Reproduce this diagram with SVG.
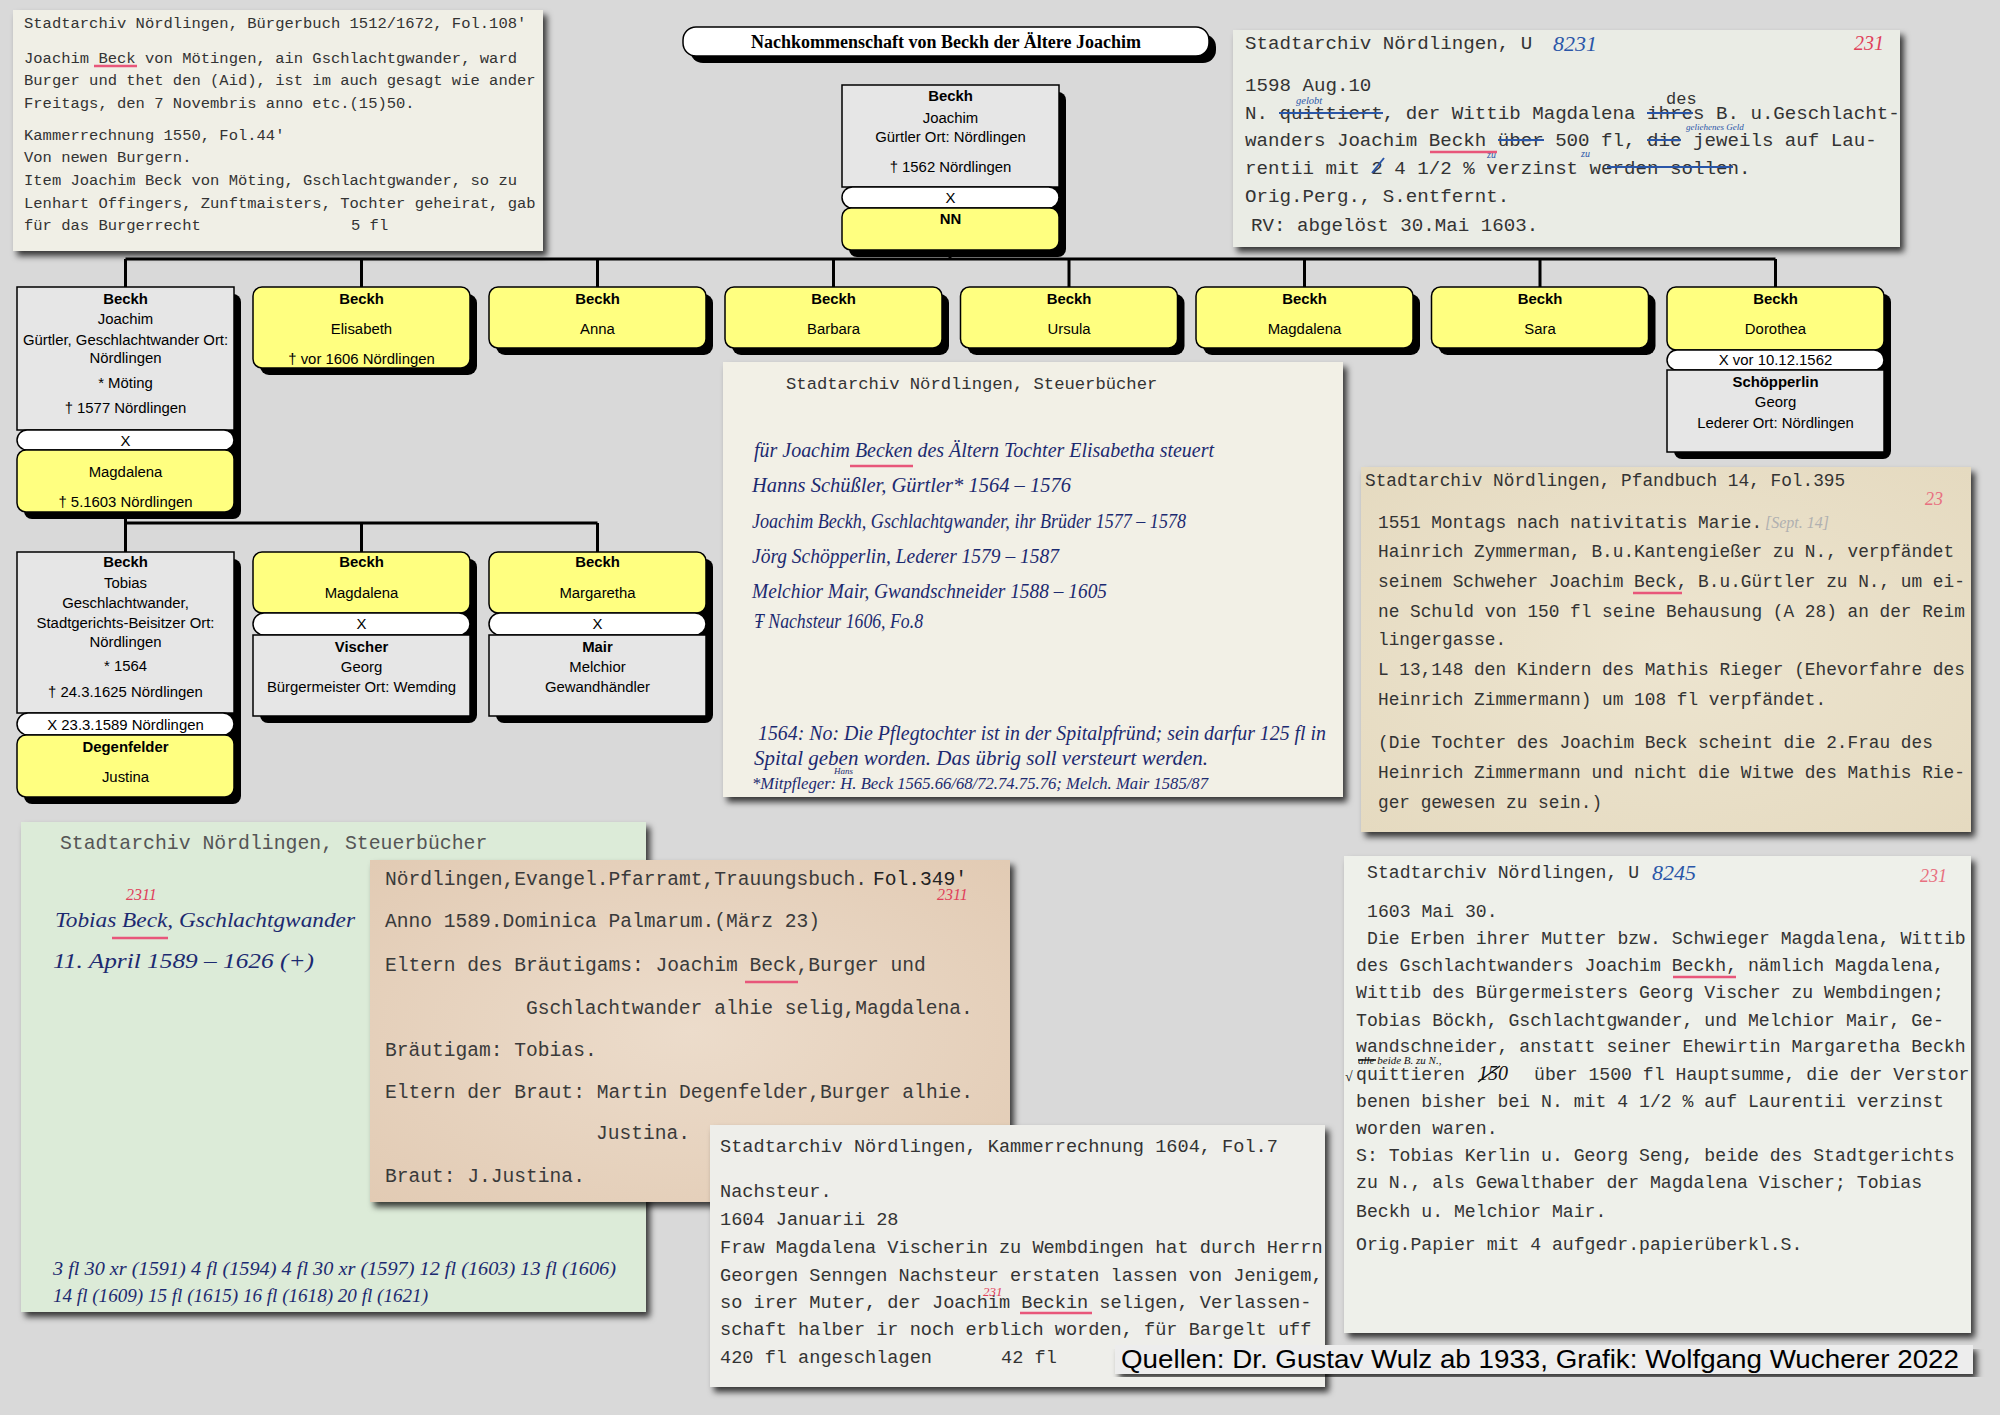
<svg xmlns="http://www.w3.org/2000/svg" width="2000" height="1415" viewBox="0 0 2000 1415">
<defs>
<style>
.nt{font-family:"Liberation Sans",Arial,sans-serif;font-size:14.9px;text-anchor:middle;fill:#000}
.b{font-weight:bold}
.gray{fill:#e6e6e6;stroke:#000;stroke-width:1.5}
.yel{fill:#ffff80;stroke:#000;stroke-width:1.5}
.pill{fill:#fff;stroke:#000;stroke-width:1.5}
.sh{fill:#000}
.conn{stroke:#000;stroke-width:3;fill:none}
.tw{font-family:"Liberation Mono","Courier New",monospace;fill:#333}
.hw{font-family:"Liberation Serif","Times New Roman",serif;font-style:italic;fill:#1c2a70}
.bl{fill:#2a56a8}
.rn{font-family:"Liberation Serif","Times New Roman",serif;font-style:italic;fill:#e0405a}
.ru{stroke:#e8567a;stroke-width:2.5;fill:none}
.st{stroke:#2a56a8;stroke-width:2;fill:none}
</style>
<filter id="ds" x="-3%" y="-3%" width="108%" height="110%">
<feGaussianBlur in="SourceAlpha" stdDeviation="3"/>
<feOffset dx="4" dy="5" result="b"/>
<feFlood flood-color="#000" flood-opacity="0.75"/>
<feComposite in2="b" operator="in"/>
<feMerge><feMergeNode/><feMergeNode in="SourceGraphic"/></feMerge>
</filter>
<radialGradient id="peach" cx="0.5" cy="0.5" r="0.7">
<stop offset="0" stop-color="#ecdccb"/>
<stop offset="1" stop-color="#e2cbb4"/>
</radialGradient>
<radialGradient id="tan" cx="0.5" cy="0.5" r="0.7">
<stop offset="0" stop-color="#ede5d0"/>
<stop offset="1" stop-color="#e5dac0"/>
</radialGradient>
</defs>
<rect width="2000" height="1415" fill="#d9d9d9"/>

<!-- Documents -->
<g id="doc-buergerbuch">
<rect x="13" y="10" width="530" height="241" fill="#f0efe6" filter="url(#ds)"/>
<g class="tw" font-size="15.5">
<text x="24" y="28">Stadtarchiv Nördlingen, Bürgerbuch 1512/1672, Fol.108'</text>
<text x="24" y="63">Joachim Beck von Mötingen, ain Gschlachtgwander, ward</text>
<text x="24" y="85">Burger und thet den (Aid), ist im auch gesagt wie ander</text>
<text x="24" y="108">Freitags, den 7 Novembris anno etc.(15)50.</text>
<text x="24" y="140">Kammerrechnung 1550, Fol.44'</text>
<text x="24" y="162">Von newen Burgern.</text>
<text x="24" y="185">Item Joachim Beck von Möting, Gschlachtgwander, so zu</text>
<text x="24" y="208">Lenhart Offingers, Zunftmaisters, Tochter geheirat, gab</text>
<text x="24" y="230">für das Burgerrecht</text>
<text x="351" y="230">5 fl</text>
</g>
<path class="ru" d="M94,66 H137"/>
</g>

<g id="doc-u8231">
<rect x="1233" y="30" width="667" height="217" fill="#eaece5" filter="url(#ds)"/>
<g class="tw" font-size="19.15">
<text x="1245" y="49">Stadtarchiv Nördlingen, U</text>
<text x="1245" y="91">1598 Aug.10</text>
<text x="1245" y="119">N. quittiert, der Wittib Magdalena ihres B. u.Geschlacht-</text>
<text x="1666" y="104" font-size="17">des</text>
<text x="1245" y="146">wanders Joachim Beckh über 500 fl, die jeweils auf Lau-</text>
<text x="1245" y="174">rentii mit 2 4 1/2 % verzinst werden sollen.</text>
<text x="1245" y="202">Orig.Perg., S.entfernt.</text>
<text x="1251" y="231">RV: abgelöst 30.Mai 1603.</text>
</g>
<text class="hw bl" x="1553" y="51" font-size="22">8231</text>
<text class="rn" x="1854" y="50" font-size="20">231</text>
<text class="hw bl" x="1296" y="104" font-size="10.5">gelobt</text>
<text class="hw bl" x="1686" y="130" font-size="9">geliehenes Geld</text>
<text class="hw bl" x="1487" y="158" font-size="10">zu</text>
<text class="hw bl" x="1581" y="157" font-size="10">zu</text>
<path class="st" d="M1279,113 H1383 M1647,113 H1693 M1498,140 H1544 M1647,140 H1681 M1372,173 L1384,158 M1607,167 H1733"/>
<path class="ru" d="M1430,152 H1497"/>
</g>

<g id="doc-steuerbuecher-1">
<rect x="723" y="362" width="620" height="435" fill="#f2f0e6" filter="url(#ds)"/>
<text class="tw" x="786" y="389" font-size="17.2">Stadtarchiv Nördlingen, Steuerbücher</text>
<g class="hw" font-size="20">
<text x="754" y="457" textLength="460" lengthAdjust="spacingAndGlyphs">für Joachim Becken des Ältern Tochter Elisabetha steuert</text>
<text x="752" y="492" textLength="319" lengthAdjust="spacingAndGlyphs">Hanns Schüßler, Gürtler* 1564 – 1576</text>
<text x="752" y="528" textLength="434" lengthAdjust="spacingAndGlyphs">Joachim Beckh, Gschlachtgwander, ihr Brüder 1577 – 1578</text>
<text x="752" y="563" textLength="307" lengthAdjust="spacingAndGlyphs">Jörg Schöpperlin, Lederer 1579 – 1587</text>
<text x="752" y="598" textLength="355" lengthAdjust="spacingAndGlyphs">Melchior Mair, Gwandschneider 1588 – 1605</text>
<text x="754" y="628" textLength="169" lengthAdjust="spacingAndGlyphs">Ŧ Nachsteur 1606, Fo.8</text>
<text x="758" y="740" textLength="568" lengthAdjust="spacingAndGlyphs">1564: No: Die Pflegtochter ist in der Spitalpfründ; sein darfur 125 fl in</text>
<text x="754" y="765" textLength="454" lengthAdjust="spacingAndGlyphs">Spital geben worden. Das übrig soll versteurt werden.</text>
<text x="752" y="789" font-size="16" textLength="456" lengthAdjust="spacingAndGlyphs">*Mitpfleger: H. Beck 1565.66/68/72.74.75.76; Melch. Mair 1585/87</text>
<text x="834" y="774" font-size="9">Hans</text>
</g>
<path class="ru" d="M850,466 H913"/>
</g>

<g id="doc-pfandbuch">
<rect x="1361" y="467" width="610" height="365" fill="url(#tan)" filter="url(#ds)"/>
<g class="tw" font-size="17.8">
<text x="1365" y="486">Stadtarchiv Nördlingen, Pfandbuch 14, Fol.395</text>
<text x="1378" y="528">1551 Montags nach nativitatis Marie.</text>
<text x="1378" y="557">Hainrich Zymmerman, B.u.Kantengießer zu N., verpfändet</text>
<text x="1378" y="587">seinem Schweher Joachim Beck, B.u.Gürtler zu N., um ei-</text>
<text x="1378" y="617">ne Schuld von 150 fl seine Behausung (A 28) an der Reim</text>
<text x="1378" y="645">lingergasse.</text>
<text x="1378" y="675">L 13,148 den Kindern des Mathis Rieger (Ehevorfahre des</text>
<text x="1378" y="705">Heinrich Zimmermann) um 108 fl verpfändet.</text>
<text x="1378" y="748">(Die Tochter des Joachim Beck scheint die 2.Frau des</text>
<text x="1378" y="778">Heinrich Zimmermann und nicht die Witwe des Mathis Rie-</text>
<text x="1378" y="808">ger gewesen zu sein.)</text>
</g>
<text class="hw" x="1765" y="528" font-size="16" style="fill:#b0b0b0">[Sept. 14]</text>
<text class="rn" x="1925" y="505" font-size="18" style="fill:#e87080">23</text>
<path class="ru" d="M1633,593 H1682"/>
</g>

<g id="doc-steuerbuecher-2">
<rect x="21" y="822" width="625" height="490" fill="#dcebd8" filter="url(#ds)"/>
<text class="tw" x="60" y="849" font-size="19.8" style="fill:#555">Stadtarchiv Nördlingen, Steuerbücher</text>
<text class="rn" x="126" y="900" font-size="16">2311</text>
<g class="hw" font-size="22">
<text x="55" y="927" textLength="300" lengthAdjust="spacingAndGlyphs">Tobias Beck, Gschlachtgwander</text>
<text x="53" y="968" textLength="261" lengthAdjust="spacingAndGlyphs">11. April 1589 – 1626 (+)</text>
<text x="53" y="1275" font-size="19" textLength="563" lengthAdjust="spacingAndGlyphs">3 fl 30 xr (1591) 4 fl (1594) 4 fl 30 xr (1597) 12 fl (1603) 13 fl (1606)</text>
<text x="53" y="1302" font-size="19" textLength="375" lengthAdjust="spacingAndGlyphs">14 fl (1609) 15 fl (1615) 16 fl (1618) 20 fl (1621)</text>
</g>
<path class="ru" d="M112,938 H168"/>
</g>

<g id="doc-trauungsbuch">
<rect x="370" y="860" width="640" height="342" fill="url(#peach)" filter="url(#ds)"/>
<g class="tw" font-size="19.6" style="fill:#3a3a3a">
<text x="385" y="885">Nördlingen,Evangel.Pfarramt,Trauungsbuch.</text>
<text x="873" y="885" style="fill:#222">Fol.349'</text>
<text x="385" y="927">Anno 1589.Dominica Palmarum.(März 23)</text>
<text x="385" y="971">Eltern des Bräutigams: Joachim Beck,Burger und</text>
<text x="526" y="1014">Gschlachtwander alhie selig,Magdalena.</text>
<text x="385" y="1056">Bräutigam: Tobias.</text>
<text x="385" y="1098">Eltern der Braut: Martin Degenfelder,Burger alhie.</text>
<text x="596" y="1139">Justina.</text>
<text x="385" y="1182">Braut: J.Justina.</text>
</g>
<text class="rn" x="937" y="900" font-size="16">2311</text>
<path class="ru" d="M745,982 H798"/>
</g>

<g id="doc-kammerrechnung">
<rect x="710" y="1125" width="615" height="262" fill="#eeeeea" filter="url(#ds)"/>
<g class="tw" font-size="18.6">
<text x="720" y="1152">Stadtarchiv Nördlingen, Kammerrechnung 1604, Fol.7</text>
<text x="720" y="1197">Nachsteur.</text>
<text x="720" y="1225">1604 Januarii 28</text>
<text x="720" y="1253">Fraw Magdalena Vischerin zu Wembdingen hat durch Herrn</text>
<text x="720" y="1281">Georgen Senngen Nachsteur erstaten lassen von Jenigem,</text>
<text x="720" y="1308">so irer Muter, der Joachim Beckin seligen, Verlassen-</text>
<text x="720" y="1335">schaft halber ir noch erblich worden, für Bargelt uff</text>
<text x="720" y="1363">420 fl angeschlagen</text>
<text x="1001" y="1363">42 fl</text>
</g>
<text class="rn" x="983" y="1296" font-size="13">231</text>
<path class="ru" d="M1020,1313 H1092"/>
</g>

<g id="doc-u8245">
<rect x="1344" y="856" width="627" height="477" fill="#eef0ea" filter="url(#ds)"/>
<g class="tw" font-size="18.15">
<text x="1367" y="878">Stadtarchiv Nördlingen, U</text>
<text x="1367" y="917">1603 Mai 30.</text>
<text x="1367" y="944">Die Erben ihrer Mutter bzw. Schwieger Magdalena, Wittib</text>
<text x="1356" y="971">des Gschlachtwanders Joachim Beckh, nämlich Magdalena,</text>
<text x="1356" y="998">Wittib des Bürgermeisters Georg Vischer zu Wembdingen;</text>
<text x="1356" y="1026">Tobias Böckh, Gschlachtgwander, und Melchior Mair, Ge-</text>
<text x="1356" y="1052">wandschneider, anstatt seiner Ehewirtin Margaretha Beckh</text>
<text x="1356" y="1080">quittieren</text>
<text x="1534" y="1080">über 1500 fl Hauptsumme, die der Verstor</text>
<text x="1356" y="1107">benen bisher bei N. mit 4 1/2 % auf Laurentii verzinst</text>
<text x="1356" y="1134">worden waren.</text>
<text x="1356" y="1161">S: Tobias Kerlin u. Georg Seng, beide des Stadtgerichts</text>
<text x="1356" y="1188">zu N., als Gewalthaber der Magdalena Vischer; Tobias</text>
<text x="1356" y="1217">Beckh u. Melchior Mair.</text>
<text x="1356" y="1250">Orig.Papier mit 4 aufgedr.papierüberkl.S.</text>
</g>
<text class="hw bl" x="1652" y="880" font-size="22">8245</text>
<text class="rn" x="1920" y="882" font-size="18" style="fill:#e87080">231</text>
<text class="hw" x="1358" y="1064" font-size="11" style="fill:#111">alle beide B. zu N.,</text>
<text class="hw" x="1345" y="1081" font-size="14" style="fill:#111">√</text>
<text class="hw" x="1478" y="1080" font-size="20" style="fill:#111">150</text>
<path d="M1358,1060 H1376 M1478,1082 L1500,1066" stroke="#111" stroke-width="1.5" fill="none"/>
<path class="ru" d="M1673,977 H1736"/>
</g>

<!-- Connectors -->
<g id="connectors" class="conn">
<path d="M950,250 V259"/>
<path d="M125.5,259 H1775.5"/>
<path d="M125.5,259 V287 M361.5,259 V287 M597.5,259 V287 M833.5,259 V287 M1069,259 V287 M1304.5,259 V287 M1540,259 V287 M1775.5,259 V287"/>
<path d="M125.5,512 V523 M125.5,523 H597.5 M125.5,523 V552 M361.5,523 V552 M597.5,523 V552"/>
</g>

<!-- Title -->
<g id="title">
<rect x="690" y="34" width="526" height="29" rx="13" class="sh"/>
<rect x="683" y="27" width="526" height="29" rx="13" fill="#fff" stroke="#000" stroke-width="1.5"/>
<text x="946" y="48" font-family="'Liberation Serif','Times New Roman',serif" font-weight="bold" font-size="18" text-anchor="middle">Nachkommenschaft von Beckh der Ältere Joachim</text>
</g>

<!-- Nodes -->
<g id="n-joachim-aelter">
<rect x="849" y="92" width="217" height="165" rx="8" class="sh"/>
<rect x="842" y="85" width="217" height="102" class="gray"/>
<rect x="842" y="187" width="217" height="21" rx="10.5" class="pill"/>
<rect x="842" y="208" width="217" height="42" rx="9" class="yel"/>
<text class="nt b" x="950.5" y="101">Beckh</text>
<text class="nt" x="950.5" y="123">Joachim</text>
<text class="nt" x="950.5" y="142">Gürtler Ort: Nördlingen</text>
<text class="nt" x="950.5" y="172">† 1562 Nördlingen</text>
<text class="nt" x="950.5" y="203">X</text>
<text class="nt b" x="950.5" y="224">NN</text>
</g>

<g id="n-joachim">
<rect x="24" y="294" width="217" height="225" rx="8" class="sh"/>
<rect x="17" y="287" width="217" height="143" class="gray"/>
<rect x="17" y="430" width="217" height="20" rx="10" class="pill"/>
<rect x="17" y="450" width="217" height="62" rx="9" class="yel"/>
<text class="nt b" x="125.5" y="304">Beckh</text>
<text class="nt" x="125.5" y="324">Joachim</text>
<text class="nt" x="125.5" y="345">Gürtler, Geschlachtwander Ort:</text>
<text class="nt" x="125.5" y="363">Nördlingen</text>
<text class="nt" x="125.5" y="388">* Möting</text>
<text class="nt" x="125.5" y="413">† 1577 Nördlingen</text>
<text class="nt" x="125.5" y="446">X</text>
<text class="nt" x="125.5" y="477">Magdalena</text>
<text class="nt" x="125.5" y="507">† 5.1603 Nördlingen</text>
</g>

<g id="n-elisabeth">
<rect x="260" y="294" width="217" height="81" rx="9" class="sh"/>
<rect x="253" y="287" width="217" height="81" rx="9" class="yel"/>
<text class="nt b" x="361.5" y="304">Beckh</text>
<text class="nt" x="361.5" y="334">Elisabeth</text>
<text class="nt" x="361.5" y="364">† vor 1606 Nördlingen</text>
</g>

<g id="n-anna">
<rect x="496" y="294" width="217" height="61" rx="9" class="sh"/>
<rect x="489" y="287" width="217" height="61" rx="9" class="yel"/>
<text class="nt b" x="597.5" y="304">Beckh</text>
<text class="nt" x="597.5" y="334">Anna</text>
</g>

<g id="n-barbara">
<rect x="732" y="294" width="217" height="61" rx="9" class="sh"/>
<rect x="725" y="287" width="217" height="61" rx="9" class="yel"/>
<text class="nt b" x="833.5" y="304">Beckh</text>
<text class="nt" x="833.5" y="334">Barbara</text>
</g>

<g id="n-ursula">
<rect x="967.5" y="294" width="217" height="61" rx="9" class="sh"/>
<rect x="960.5" y="287" width="217" height="61" rx="9" class="yel"/>
<text class="nt b" x="1069" y="304">Beckh</text>
<text class="nt" x="1069" y="334">Ursula</text>
</g>

<g id="n-magdalena-1">
<rect x="1203" y="294" width="217" height="61" rx="9" class="sh"/>
<rect x="1196" y="287" width="217" height="61" rx="9" class="yel"/>
<text class="nt b" x="1304.5" y="304">Beckh</text>
<text class="nt" x="1304.5" y="334">Magdalena</text>
</g>

<g id="n-sara">
<rect x="1438.5" y="294" width="217" height="61" rx="9" class="sh"/>
<rect x="1431.5" y="287" width="217" height="61" rx="9" class="yel"/>
<text class="nt b" x="1540" y="304">Beckh</text>
<text class="nt" x="1540" y="334">Sara</text>
</g>

<g id="n-dorothea">
<rect x="1674" y="294" width="217" height="165" rx="8" class="sh"/>
<rect x="1667" y="287" width="217" height="63" rx="9" class="yel"/>
<rect x="1667" y="350" width="217" height="20" rx="10" class="pill"/>
<rect x="1667" y="370" width="217" height="82" class="gray"/>
<text class="nt b" x="1775.5" y="304">Beckh</text>
<text class="nt" x="1775.5" y="334">Dorothea</text>
<text class="nt" x="1775.5" y="365">X vor 10.12.1562</text>
<text class="nt b" x="1775.5" y="387">Schöpperlin</text>
<text class="nt" x="1775.5" y="407">Georg</text>
<text class="nt" x="1775.5" y="428">Lederer Ort: Nördlingen</text>
</g>

<g id="n-tobias">
<rect x="24" y="559" width="217" height="245" rx="8" class="sh"/>
<rect x="17" y="552" width="217" height="161" class="gray"/>
<rect x="17" y="713" width="217" height="22" rx="11" class="pill"/>
<rect x="17" y="735" width="217" height="62" rx="9" class="yel"/>
<text class="nt b" x="125.5" y="567">Beckh</text>
<text class="nt" x="125.5" y="588">Tobias</text>
<text class="nt" x="125.5" y="608">Geschlachtwander,</text>
<text class="nt" x="125.5" y="628">Stadtgerichts-Beisitzer Ort:</text>
<text class="nt" x="125.5" y="647">Nördlingen</text>
<text class="nt" x="125.5" y="671">* 1564</text>
<text class="nt" x="125.5" y="697">† 24.3.1625 Nördlingen</text>
<text class="nt" x="125.5" y="730">X 23.3.1589 Nördlingen</text>
<text class="nt b" x="125.5" y="752">Degenfelder</text>
<text class="nt" x="125.5" y="782">Justina</text>
</g>

<g id="n-magdalena-2">
<rect x="260" y="559" width="217" height="164" rx="8" class="sh"/>
<rect x="253" y="552" width="217" height="61" rx="9" class="yel"/>
<rect x="253" y="613" width="217" height="22" rx="11" class="pill"/>
<rect x="253" y="635" width="217" height="81" class="gray"/>
<text class="nt b" x="361.5" y="567">Beckh</text>
<text class="nt" x="361.5" y="598">Magdalena</text>
<text class="nt" x="361.5" y="629">X</text>
<text class="nt b" x="361.5" y="652">Vischer</text>
<text class="nt" x="361.5" y="672">Georg</text>
<text class="nt" x="361.5" y="692">Bürgermeister Ort: Wemding</text>
</g>

<g id="n-margaretha">
<rect x="496" y="559" width="217" height="164" rx="8" class="sh"/>
<rect x="489" y="552" width="217" height="61" rx="9" class="yel"/>
<rect x="489" y="613" width="217" height="22" rx="11" class="pill"/>
<rect x="489" y="635" width="217" height="81" class="gray"/>
<text class="nt b" x="597.5" y="567">Beckh</text>
<text class="nt" x="597.5" y="598">Margaretha</text>
<text class="nt" x="597.5" y="629">X</text>
<text class="nt b" x="597.5" y="652">Mair</text>
<text class="nt" x="597.5" y="672">Melchior</text>
<text class="nt" x="597.5" y="692">Gewandhändler</text>
</g>

<g id="credits">
<rect x="1115" y="1345" width="858" height="29" fill="#ededed" filter="url(#ds)"/>
<text x="1121" y="1368" font-family="'Liberation Sans',Arial,sans-serif" font-size="25" fill="#000" textLength="838" lengthAdjust="spacingAndGlyphs">Quellen: Dr. Gustav Wulz ab 1933, Grafik: Wolfgang Wucherer  2022</text>
</g>
</svg>
